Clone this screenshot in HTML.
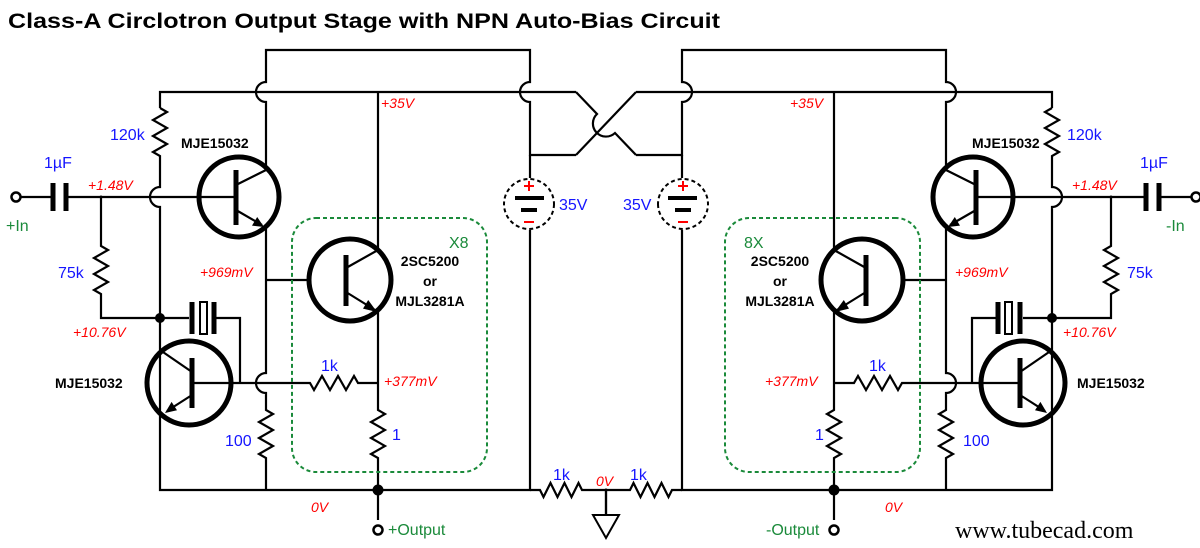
<!DOCTYPE html>
<html><head><meta charset="utf-8"><style>
html,body{margin:0;padding:0;background:#fff;}
svg{display:block;font-family:"Liberation Sans",sans-serif;}
.w{fill:none;stroke:#000;stroke-width:2.2;stroke-linejoin:miter}
.t{fill:none;stroke:#000;stroke-width:5}
.b{fill:#1515ff;font-size:16px}
.r{fill:#f00;font-size:14px;font-style:italic}
.k{fill:#000;font-size:14px;font-weight:bold}
.g{fill:#1a8a3a;font-size:16px}
</style></head><body>
<svg width="1200" height="548" viewBox="0 0 1200 548" xmlns="http://www.w3.org/2000/svg">
<defs>
<g id="half">
  <path class="w" d="M266,170 L266,102 A10,10 0 0 1 266,82 L266,50 L530,50 L530,82 A10,10 0 0 0 530,102 L530,155 L576,155"/>
  <path class="w" d="M160,108 L160,92 L576,92"/>
  <path class="w" d="M378,92 L378,250"/>
  <path class="w" d="M160,108 l7,4 l-14,8 l14,8 l-14,8 l14,8 l-14,8 l7,4 L160,187 A10,10 0 0 0 160,207 L160,490 L530,490 L530,230"/>
  <path class="w" d="M530,155 L530,178"/>
  <circle cx="529" cy="204" r="25" fill="none" stroke="#000" stroke-width="2" stroke-dasharray="4,3"/>
  <path d="M515,198 H544" stroke="#000" stroke-width="4"/>
  <path d="M521,210 H537" stroke="#000" stroke-width="4"/>
  <path d="M524,186 h10 M529,181 v10 M524,222 h10" stroke="#f00" stroke-width="2"/>
  <circle cx="16" cy="197" r="4.5" fill="#fff" stroke="#000" stroke-width="2.5"/>
  <path class="w" d="M20,197 H52 M66,197 H236"/>
  <path class="t" d="M53,183 V211 M66,183 V211"/>
  <circle cx="101" cy="197" r="1.5" fill="#000"/>
  <path class="w" d="M101,197 L101,246 l7,4 l-14,8 l14,8 l-14,8 l14,8 l-14,8 l7,4 L101,318 L189,318"/>
  <circle cx="160" cy="318" r="5" fill="#000"/>
  <path class="t" d="M192,302 V334 M214,302 V334"/>
  <rect x="200" y="302" width="7" height="32" fill="#fff" stroke="#000" stroke-width="2"/>
  <path class="w" d="M216,318 H240 V383"/>
  <circle cx="239" cy="197" r="40" fill="none" stroke="#000" stroke-width="5"/>
  <path class="t" d="M236,170 V225"/>
  <path class="w" d="M236,185 L266,170 M236,210 L262,225"/>
  <polygon points="264,227 252,225.6 257.2,217" fill="#000"/>
  <path class="w" d="M266,227 L266,373 A10,10 0 0 0 266,393 L266,410 l7,4 l-14,8 l14,8 l-14,8 l14,8 l-14,8 l7,4 L266,490"/>
  <path class="w" d="M266,280 H310"/>
  <circle cx="350" cy="280" r="41" fill="none" stroke="#000" stroke-width="5"/>
  <path class="t" d="M346,255 V306"/>
  <path class="w" d="M346,268 L378,250 M346,292 L375,310"/>
  <polygon points="377,312 363,308.6 368.2,300" fill="#000"/>
  <path class="w" d="M378,311 L378,410 l7,4 l-14,8 l14,8 l-14,8 l14,8 l-14,8 l7,4 L378,520"/>
  <circle cx="378" cy="490" r="5.5" fill="#000"/>
  <circle cx="378" cy="530" r="4.5" fill="#fff" stroke="#000" stroke-width="2.5"/>
  <path class="w" d="M192,383 H310 l4,7 l8,-14 l8,14 l8,-14 l8,14 l8,-14 l4,7 H378"/>
  <circle cx="189" cy="383" r="42" fill="none" stroke="#000" stroke-width="5"/>
  <path class="t" d="M192,358 V408"/>
  <path class="w" d="M192,372 L160,350 M192,395 L167,411"/>
  <polygon points="165,413 177,410.3 171.6,401.9" fill="#000"/>
  <rect x="292" y="218" width="195" height="254" rx="24" fill="none" stroke="#1a8a3a" stroke-width="2" stroke-dasharray="4,3"/>
  <path class="w" d="M530,490 H540 l3.5,7 l7,-14 l7,14 l7,-14 l7,14 l7,-14 l3.5,7 H606 V515"/>
</g>
</defs>
<use href="#half"/>
<use href="#half" transform="translate(1212,0) scale(-1,1)"/>
<!-- crossing -->
<path class="w" d="M576,155 L636,92"/>
<path class="w" d="M576,92 L597,114 A13,13 0 0 0 615,133 L636,155"/>
<path d="M593,515 L619,515 L606,538 Z" fill="#fff" stroke="#000" stroke-width="2"/>
<circle cx="606" cy="490" r="1.5" fill="#000"/>

<text x="8" y="28" font-size="21" font-weight="bold" textLength="712" lengthAdjust="spacingAndGlyphs">Class-A Circlotron Output Stage with NPN Auto-Bias Circuit</text>

<text class="b" x="110" y="140">120k</text>
<text class="k" x="181" y="148">MJE15032</text>
<text class="b" x="44" y="168">1µF</text>
<text class="r" x="88" y="190">+1.48V</text>
<text class="g" x="6" y="231">+In</text>
<text class="b" x="58" y="278">75k</text>
<text class="r" x="200" y="277">+969mV</text>
<text class="r" x="73" y="337">+10.76V</text>
<text class="k" x="55" y="388">MJE15032</text>
<text class="b" x="225" y="446">100</text>
<text class="b" x="321" y="371">1k</text>
<text class="r" x="384" y="386">+377mV</text>
<text class="b" x="392" y="440">1</text>
<text class="r" x="381" y="108">+35V</text>
<text class="g" x="449" y="248">X8</text>
<text class="k" x="430" y="266" text-anchor="middle">2SC5200</text>
<text class="k" x="430" y="286" text-anchor="middle">or</text>
<text class="k" x="430" y="306" text-anchor="middle">MJL3281A</text>
<text class="b" x="559" y="210">35V</text>
<text class="r" x="311" y="512">0V</text>
<text class="g" x="388" y="535">+Output</text>
<text class="b" x="553" y="480">1k</text>
<text class="r" x="596" y="486">0V</text>
<text class="b" x="630" y="480">1k</text>

<text class="b" x="623" y="210">35V</text>
<text class="r" x="790" y="108">+35V</text>
<text class="k" x="972" y="148">MJE15032</text>
<text class="b" x="1067" y="140">120k</text>
<text class="b" x="1140" y="168">1µF</text>
<text class="r" x="1072" y="190">+1.48V</text>
<text class="g" x="1166" y="231">-In</text>
<text class="b" x="1127" y="278">75k</text>
<text class="g" x="744" y="248">8X</text>
<text class="k" x="780" y="266" text-anchor="middle">2SC5200</text>
<text class="k" x="780" y="286" text-anchor="middle">or</text>
<text class="k" x="780" y="306" text-anchor="middle">MJL3281A</text>
<text class="r" x="955" y="277">+969mV</text>
<text class="r" x="1063" y="337">+10.76V</text>
<text class="b" x="869" y="371">1k</text>
<text class="r" x="765" y="386">+377mV</text>
<text class="k" x="1077" y="388">MJE15032</text>
<text class="b" x="815" y="440">1</text>
<text class="b" x="963" y="446">100</text>
<text class="r" x="885" y="512">0V</text>
<text class="g" x="766" y="535">-Output</text>
<text x="955" y="538" font-family="Liberation Serif, serif" font-size="24" fill="#000">www.tubecad.com</text>
</svg>
</body></html>
